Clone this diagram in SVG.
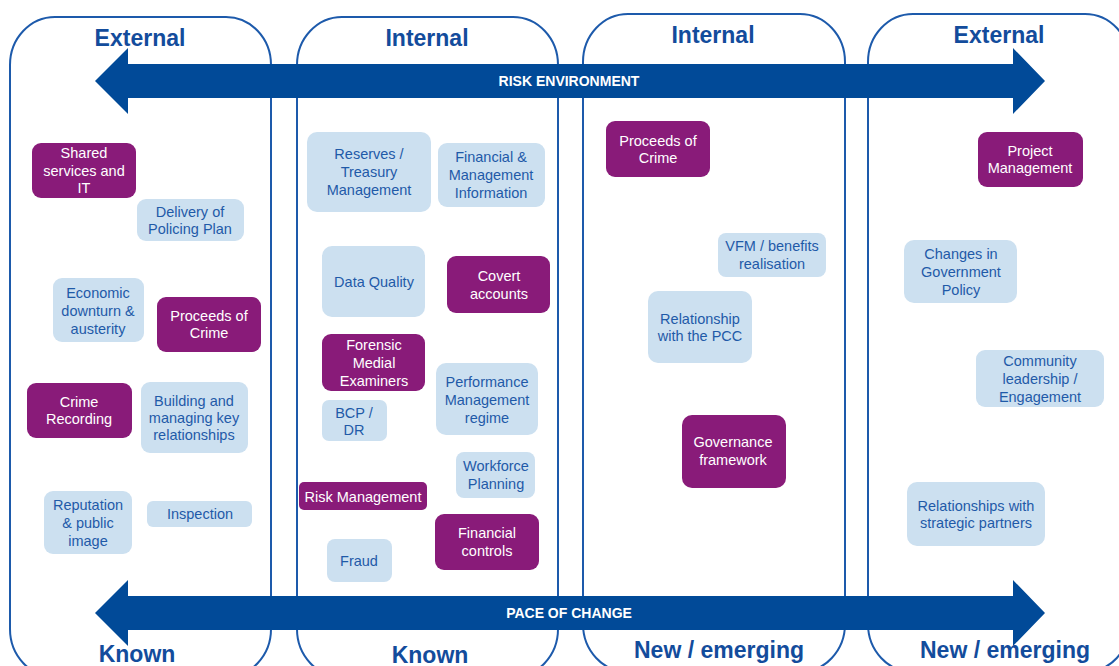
<svg xmlns="http://www.w3.org/2000/svg" width="1119" height="666" viewBox="0 0 1119 666">
<style>
.panel{fill:none;stroke:#1d5aab;stroke-width:2}
.title{font-family:"Liberation Sans",Arial,sans-serif;font-weight:bold;fill:#134c9c;text-anchor:middle;font-size:23px}
.arrow{fill:#014a98}
.atext{font-family:"Liberation Sans",Arial,sans-serif;font-weight:bold;font-size:14px;fill:#ffffff;text-anchor:middle}
.lb{fill:#cce0f0}
.pu{fill:#891b79}
.lt{font-family:"Liberation Sans",Arial,sans-serif;font-size:14.5px;fill:#1f5aa8;text-anchor:middle}
.pt{font-family:"Liberation Sans",Arial,sans-serif;font-size:14.5px;fill:#ffffff;text-anchor:middle}
</style>
<rect width="1119" height="666" fill="#ffffff"/>
<g id="panels">
<rect class="panel" x="10" y="17" width="261" height="660" rx="45" ry="48"/>
<rect class="panel" x="297" y="17" width="261" height="660" rx="45" ry="48"/>
<rect class="panel" x="583" y="14" width="262" height="658" rx="45" ry="48"/>
<rect class="panel" x="868" y="14" width="262" height="658" rx="45" ry="48"/>
<text class="title" x="140" y="46">External</text>
<text class="title" x="427" y="46">Internal</text>
<text class="title" x="713" y="43">Internal</text>
<text class="title" x="999" y="43">External</text>
<text class="title" x="137" y="662">Known</text>
<text class="title" x="430" y="663">Known</text>
<text class="title" x="719" y="658">New / emerging</text>
<text class="title" x="1005" y="658">New / emerging</text>
</g>
<g id="connectors">
<polygon class="arrow" points="95,81 128,48 128,64 1013,64 1013,48 1045,81 1013,114 1013,98 128,98 128,114"/>
<text class="atext" x="569" y="86">RISK ENVIRONMENT</text>
<polygon class="arrow" points="95,613 128,580 128,596 1013,596 1013,580 1045,613 1013,646 1013,630 128,630 128,646"/>
<text class="atext" x="569" y="618">PACE OF CHANGE</text>
</g>
<g id="shared"><rect class="pu" x="32" y="143" width="104" height="55" rx="9"/><text class="pt" x="84" y="158">Shared</text><text class="pt" x="84" y="176">services and</text><text class="pt" x="84" y="193">IT</text></g>
<g id="delivery"><rect class="lb" x="137" y="199" width="107" height="42" rx="9"/><text class="lt" x="190" y="217">Delivery of</text><text class="lt" x="190" y="234">Policing Plan</text></g>
<g id="economic"><rect class="lb" x="53" y="278" width="91" height="64" rx="9"/><text class="lt" x="98" y="298">Economic</text><text class="lt" x="98" y="316">downturn &amp;</text><text class="lt" x="98" y="334">austerity</text></g>
<g id="proceeds1"><rect class="pu" x="157" y="297" width="104" height="55" rx="9"/><text class="pt" x="209" y="321">Proceeds of</text><text class="pt" x="209" y="338">Crime</text></g>
<g id="crimerec"><rect class="pu" x="27" y="383" width="105" height="55" rx="9"/><text class="pt" x="79" y="407">Crime</text><text class="pt" x="79" y="424">Recording</text></g>
<g id="building"><rect class="lb" x="141" y="382" width="107" height="71" rx="9"/><text class="lt" x="194" y="406">Building and</text><text class="lt" x="194" y="423">managing key</text><text class="lt" x="194" y="440">relationships</text></g>
<g id="reputation"><rect class="lb" x="44" y="491" width="88" height="63" rx="9"/><text class="lt" x="88" y="510">Reputation</text><text class="lt" x="88" y="528">&amp; public</text><text class="lt" x="88" y="546">image</text></g>
<g id="inspection"><rect class="lb" x="147" y="501" width="105" height="26" rx="6"/><text class="lt" x="200" y="519">Inspection</text></g>
<g id="reserves"><rect class="lb" x="307" y="132" width="124" height="80" rx="10"/><text class="lt" x="369" y="159">Reserves /</text><text class="lt" x="369" y="177">Treasury</text><text class="lt" x="369" y="195">Management</text></g>
<g id="finmgmt"><rect class="lb" x="438" y="143" width="107" height="64" rx="9"/><text class="lt" x="491" y="162">Financial &amp;</text><text class="lt" x="491" y="180">Management</text><text class="lt" x="491" y="198">Information</text></g>
<g id="dataquality"><rect class="lb" x="322" y="246" width="103" height="71" rx="10"/><text class="lt" x="374" y="287">Data Quality</text></g>
<g id="covert"><rect class="pu" x="447" y="256" width="103" height="57" rx="9"/><text class="pt" x="499" y="281">Covert</text><text class="pt" x="499" y="299">accounts</text></g>
<g id="forensic"><rect class="pu" x="322" y="334" width="103" height="57" rx="9"/><text class="pt" x="374" y="350">Forensic</text><text class="pt" x="374" y="368">Medial</text><text class="pt" x="374" y="386">Examiners</text></g>
<g id="bcp"><rect class="lb" x="322" y="400" width="65" height="41" rx="7"/><text class="lt" x="354" y="418">BCP /</text><text class="lt" x="354" y="435">DR</text></g>
<g id="performance"><rect class="lb" x="436" y="363" width="102" height="72" rx="10"/><text class="lt" x="487" y="387">Performance</text><text class="lt" x="487" y="405">Management</text><text class="lt" x="487" y="423">regime</text></g>
<g id="workforce"><rect class="lb" x="456" y="452" width="79" height="46" rx="8"/><text class="lt" x="496" y="471">Workforce</text><text class="lt" x="496" y="489">Planning</text></g>
<g id="riskmgmt"><rect class="pu" x="299" y="482" width="128" height="28" rx="5"/><text class="pt" x="363" y="502">Risk Management</text></g>
<g id="fincontrols"><rect class="pu" x="435" y="514" width="104" height="56" rx="9"/><text class="pt" x="487" y="538">Financial</text><text class="pt" x="487" y="556">controls</text></g>
<g id="fraud"><rect class="lb" x="327" y="539" width="65" height="43" rx="8"/><text class="lt" x="359" y="566">Fraud</text></g>
<g id="proceeds2"><rect class="pu" x="606" y="121" width="104" height="56" rx="9"/><text class="pt" x="658" y="146">Proceeds of</text><text class="pt" x="658" y="163">Crime</text></g>
<g id="vfm"><rect class="lb" x="718" y="233" width="108" height="44" rx="8"/><text class="lt" x="772" y="251">VFM / benefits</text><text class="lt" x="772" y="269">realisation</text></g>
<g id="pcc"><rect class="lb" x="648" y="291" width="104" height="72" rx="10"/><text class="lt" x="700" y="324">Relationship</text><text class="lt" x="700" y="341">with the PCC</text></g>
<g id="governance"><rect class="pu" x="682" y="415" width="104" height="73" rx="10"/><text class="pt" x="733" y="447">Governance</text><text class="pt" x="733" y="465">framework</text></g>
<g id="project"><rect class="pu" x="978" y="132" width="105" height="55" rx="9"/><text class="pt" x="1030" y="156">Project</text><text class="pt" x="1030" y="173">Management</text></g>
<g id="changes"><rect class="lb" x="904" y="240" width="113" height="63" rx="10"/><text class="lt" x="961" y="259">Changes in</text><text class="lt" x="961" y="277">Government</text><text class="lt" x="961" y="295">Policy</text></g>
<g id="community"><rect class="lb" x="976" y="350" width="128" height="57" rx="9"/><text class="lt" x="1040" y="366">Community</text><text class="lt" x="1040" y="384">leadership /</text><text class="lt" x="1040" y="402">Engagement</text></g>
<g id="relationships"><rect class="lb" x="907" y="482" width="138" height="64" rx="10"/><text class="lt" x="976" y="511">Relationships with</text><text class="lt" x="976" y="528">strategic partners</text></g>
</svg>
